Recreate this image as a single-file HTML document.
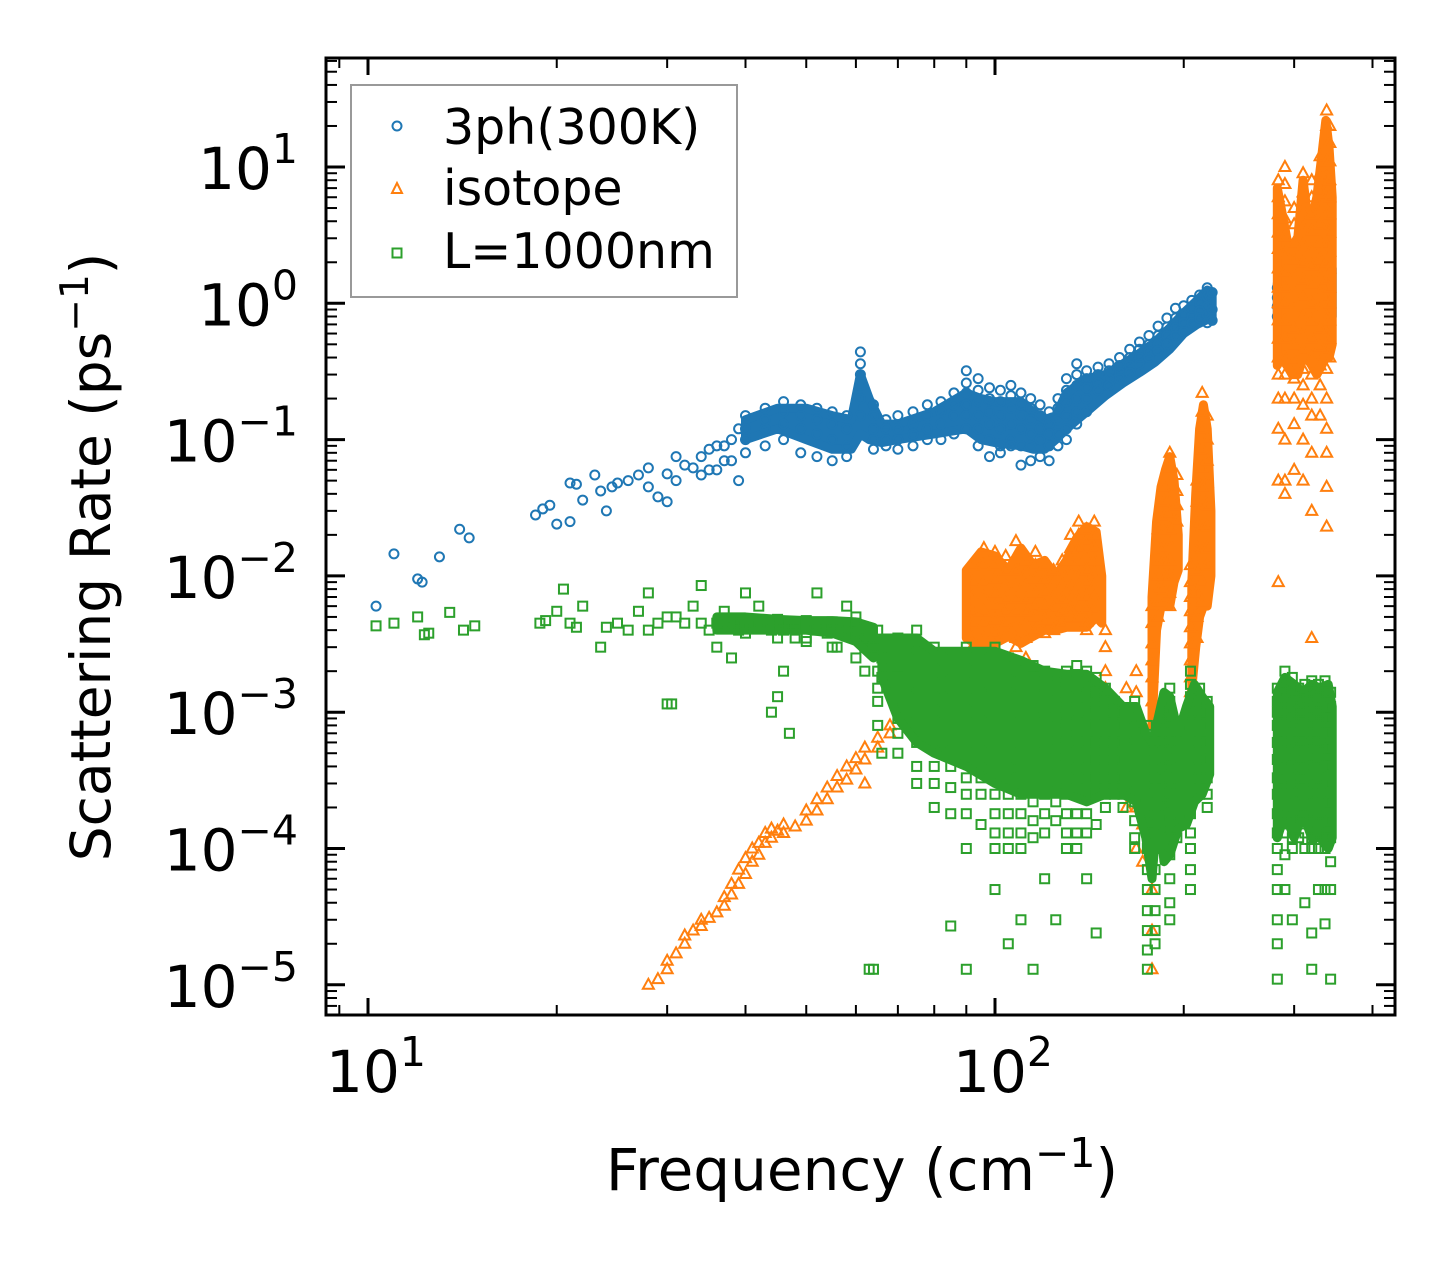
<!DOCTYPE html>
<html><head><meta charset="utf-8"><style>
html,body{margin:0;padding:0;background:#fff;}
svg{display:block;}
text{font-family:"DejaVu Sans","Liberation Sans",sans-serif;fill:#000;}
</style></head><body>
<svg id="chart" width="1455" height="1265" viewBox="0 0 1455 1265" xmlns="http://www.w3.org/2000/svg">
<rect x="0" y="0" width="1455" height="1265" fill="#fff"/>
<g id="marks"></g>
<g id="axes"></g>
<g id="legend">
  <rect x="351" y="85" width="386" height="212" fill="#fff" fill-opacity="0.8" stroke="#999" stroke-width="2"/>
  <circle cx="397" cy="126" r="4.5" fill="none" stroke="#1f77b4" stroke-width="2"/>
  <text x="443" y="144" font-size="49">3ph(300K)</text>
  <polygon points="397,183 392,193 402,193" fill="none" stroke="#ff7f0e" stroke-width="2"/>
  <text x="443" y="205" font-size="49">isotope</text>
  <rect x="392.5" y="248.5" width="9" height="9" fill="none" stroke="#2ca02c" stroke-width="2"/>
  <text x="443" y="268" font-size="49">L=1000nm</text>
</g>
<text x="862" y="1190" font-size="58" text-anchor="middle">Frequency (cm<tspan dy="-23" font-size="41">−1</tspan><tspan dy="23">)</tspan></text>
<text transform="translate(110,557) rotate(-90)" font-size="55" text-anchor="middle">Scattering Rate (ps<tspan dy="-22" font-size="39">−1</tspan><tspan dy="22">)</tspan></text>
</svg>
<script>
// ---- data (frequency in cm^-1, rates in ps^-1) ----
const blueFreq = [10.3,11,12,12.2,13,14,14.5,18.5,19,19.5,20,21,21.5,22,23,23.5,24,24.5,25,26,27,28,29,30,31,32,33,34,35,36,37,38,39,
 40,43,46,49,52,55,58,61,64,67,70,74,78,82,86,90,94,98,102,106,110,114,118,122,126,130,135,140,146,152,158,164,170,176,182,188,194,200,206,212,218,222,
 282,290,300,310,320,330,340];
const blueRate = [[.006],[.0145],[.0095],[.009],[.0138],[.022],[.019],[.028],[.031],[.033],[.024],[.048,.025],[.047],[.036],[.055],[.042],[.03],[.045],[.048],[.05],[.055],[.062,.045],[.038],[.035,.056],[.075,.05],[.065],[.062],[.075,.055],[.085,.06],[.06,.09],[.09,.07],[.07,.1],[.05,.12],
 [.15,.12,.1,.08],[.17,.14,.12,.09],[.19,.16,.13,.1],[.18,.15,.12,.08],[.17,.14,.11,.075],[.16,.13,.1,.07],[.15,.12,.09,.075],[.44,.36,.3,.25,.2,.15],[.18,.15,.12,.1,.085],[.14,.12,.1,.09],[.15,.12,.1,.085],[.16,.13,.11,.09],[.18,.15,.12,.1],[.19,.16,.13,.1],[.22,.18,.15,.11],
 [.32,.26,.22,.18,.15,.12],[.28,.23,.19,.15,.12,.09],[.24,.2,.16,.13,.1,.075],[.23,.19,.15,.12,.09,.08],[.25,.21,.17,.13,.1,.09],[.22,.18,.15,.12,.09,.065],[.2,.17,.14,.11,.09,.07],[.18,.15,.12,.1,.075],[.16,.13,.11,.09,.07],[.2,.17,.14,.11,.09],[.28,.23,.19,.15,.12,.1],[.36,.3,.25,.2,.16,.13],[.32,.28,.24,.2,.16],[.34,.3,.26,.23],[.36,.32,.28,.25],[.4,.35,.31,.28],[.46,.4,.35,.31],[.52,.46,.4,.36],[.58,.5,.44,.4],[.68,.58,.5,.45],[.78,.67,.58,.5],[.92,.78,.66,.58],[.96,.82,.72,.62],[1.05,.92,.8,.72],[1.15,1.0,.88,.78],[1.3,1.12,.95,.82,.72],[1.2,.9,.75],
 [1.3,1.1,.95,.8],[1.5,1.25,1.05,.9,.7],[1.2,.95,.75,.55,.4],[1.0,.8,.6,.45],[1.4,1.1,.85,.65,.45],[1.6,1.3,1.0,.75,.5],[2.0,1.7,1.4,1.15,.9]];
// dense-cloud envelopes (upper / lower edge of the packed marker region)
const blueEnvFreq = [40,45,50,55,59,61,63,66,70,80,90,95,100,110,115,120,125,130,140,150,160,170,180,190,200,210,218,222];
const blueEnvHi   = [.14,.17,.17,.15,.14,.3,.2,.13,.13,.16,.22,.2,.19,.19,.16,.14,.15,.22,.28,.3,.36,.43,.52,.66,.85,1.05,1.25,1.2];
const blueEnvLo   = [.1,.12,.1,.085,.085,.11,.1,.095,.1,.11,.12,.1,.095,.09,.085,.085,.1,.12,.16,.21,.26,.31,.37,.46,.6,.7,.76,.76];
const blueEnv2Freq = [282,290,300,310,320,330,340,345];
const blueEnv2Hi   = [1.4,1.5,1.2,1.1,1.4,1.6,1.9,1.8];
const blueEnv2Lo   = [.8,.7,.5,.42,.45,.42,.6,.8];

const orangeFreq = [28,29,30,31,32,33,34,35,36,37,38,39,40,41,42,43,44,45,46,48,50,52,54,56,58,60,62,65,68,72,75,80,85,88,
 92,96,100,104,108,112,116,120,124,128,132,136,140,144,150,156,162,168,172,178,182,186,190,195,205,210,214,218,
 283,290,300,310,320,330,338,342];
const orangeRate = [[1e-5],[1.1e-5],[1.3e-5,1.5e-5],[1.7e-5],[2e-5,2.3e-5],[2.5e-5],[2.7e-5,3e-5],[3.1e-5],[3.4e-5],[3.8e-5,4.4e-5],[4.6e-5,5.5e-5],[5.5e-5,7e-5],[6.5e-5,8.5e-5],[8e-5,1e-4],[9e-5,1.1e-4],[1.1e-4,1.3e-4],[1.2e-4,1.4e-4],[1.35e-4],[1.3e-4,1.5e-4],[1.45e-4],[1.6e-4,1.9e-4],[1.9e-4,2.3e-4],[2.3e-4,2.8e-4],[2.8e-4,3.4e-4],[3.2e-4,4e-4],[3.8e-4,4.6e-4],[4.5e-4,5.5e-4,3e-4],[5.5e-4,6.5e-4],[7e-4,8e-4],[8.5e-4,1e-3],[1e-3],[1.2e-3],[1.5e-3],[2e-3],
 [.012,.009,.007,.0055,.0045,.0035,.003],[.016,.012,.009,.007,.0055,.0045,.0035,.0025],[.015,.012,.0095,.0075,.006,.0048,.0038,.003],[.014,.011,.0085,.0068,.0055,.0045,.0036],[.018,.014,.011,.0085,.0068,.0055,.0044,.0035,.003],[.013,.0105,.0085,.0068,.0055,.0044,.0035,.0025],[.015,.012,.0095,.0075,.006,.005,.004],[.012,.0095,.0076,.006,.0048,.0038],[.011,.0088,.007,.0058,.0048,.004],[.013,.0105,.0085,.0068,.0055,.0045],[.02,.016,.013,.0105,.0085,.007,.0058,.005],[.025,.02,.016,.013,.0105,.0085,.007,.0058,.005],[.022,.018,.014,.011,.009,.0072,.0058,.0046,.004],[.025,.02,.016,.013,.0105,.0085,.007,.0057],
 [.004,.003,.002,.0015,.001,.0006],[.0012,.0008,.0005,.0003],[.0015,.001,.0006,.0004,.0002],[.002,.0014,.001,.0007,.0005,.0003,.0002,1e-4],[.0008,5e-4,3e-4,1.5e-4,8e-5],
 [.006,.0045,.0032,.0024,.0018,.0012,8e-4,5e-4,3e-4,2e-4,1e-4,5e-5,2.5e-5,1.3e-5],[.022,.017,.013,.01,.008,.0065,.005],[.045,.035,.027,.021,.016,.013,.01,.008],[.08,.062,.048,.037,.029,.022,.017,.013,.01,.0075,.006],[.055,.042,.033,.025],
 [.012,.009,.007,.0055,.0042,.0032,.0024,.0018,.0014,.001],[.05,.035,.024,.016,.011,.0075,.005,.0035],[.22,.16,.12,.085,.062,.045,.032,.023,.016,.012,.009,.0065],[.15,.1,.07,.048,.033,.023,.016,.012],
 [8,6,4.5,3.3,2.5,1.8,1.3,1,.75,.55,.4,.3,.2,.12,.05,.009],[10,7.5,5.6,4.2,3.1,2.3,1.7,1.3,1,.75,.55,.4,.3,.2,.1,.05,.04],[5,3.8,2.8,2.1,1.6,1.2,.9,.65,.5,.38,.28,.2,.13,.06],[9,6.5,4.8,3.6,2.7,2,1.5,1.1,.8,.6,.45,.33,.25,.18,.1,.05],[8,6,4.5,3.4,2.5,1.9,1.4,1,.75,.55,.4,.3,.2,.15,.08,.03,.0035],[12,9,6.8,5,3.8,2.8,2.1,1.6,1.2,.9,.65,.48,.35,.25,.15],[26,20,15,11,8.5,6.4,4.8,3.6,2.7,2,1.5,1.1,.8,.6,.45,.33,.2,.12,.08,.045,.023],[20,15,11,8,6,4.5,3.3,2.4,1.8,1.3,1,.75,.55,.4]];
const orangeEnvAFreq = [90,95,100,105,110,115,120,125,130,135,140,145,148];
const orangeEnvAHi   = [.011,.015,.014,.011,.016,.012,.013,.01,.013,.019,.023,.021,.01];
const orangeEnvALo   = [.0035,.003,.0032,.0036,.0032,.0036,.004,.004,.0042,.0042,.0042,.005,.0045];
const orangeEnvBFreq = [178,181,184,187,190,193,196];
const orangeEnvBHi   = [.007,.025,.045,.06,.075,.05,.02];
const orangeEnvBLo   = [.0008,.004,.006,.006,.006,.009,.011];
const orangeEnvCFreq = [206,209,212,215,218,221];
const orangeEnvCHi   = [.009,.04,.12,.18,.12,.03];
const orangeEnvCLo   = [.0015,.003,.005,.006,.006,.01];
const orangeEnvDFreq = [282,286,292,298,304,310,314,320,326,332,337,341,345];
const orangeEnvDHi   = [7,5,3,2.2,3,8,5,4,6,12,22,14,6];
const orangeEnvDLo   = [.35,.4,.35,.3,.3,.4,.4,.35,.3,.35,.4,.4,.5];

const greenFreq = [10.3,11,12,12.3,12.5,13.5,14.2,14.8,18.8,19.2,20,20.5,21,21.5,22,23.5,24,25,26,27,28,29,30,30.5,31,32,33,34,35,36,37,38,39,
 40,42,44,45,46,47,48,50,52,54,55,56,58,60,62,63,64,65,66,
 70,75,80,85,90,95,100,105,110,115,120,125,130,135,140,145,150,155,160,167,175,180,185,190,195,205,212,218,
 282,290,298,305,312,320,328,336,343];
const greenRate = [[.0043],[.0045],[.005],[.0037],[.0038],[.0054],[.004],[.0043],[.0045],[.0047],[.0055],[.008],[.0045],[.0042],[.006],[.003],[.0042],[.0045],[.004],[.0055],[.0075,.004],[.0045],[.00115,.005],[.00115],[.005],[.0045],[.006],[.0085,.0045],[.004],[.003,.0045],[.0055,.0045],[.0025,.0048],[.004,.0045],
 [.0075,.0048,.0042,.0038],[.006,.0047,.0042],[.001,.0046,.004],[.0048,.0042,.0035,.0013],[.002,.0046,.004],[.0007,.0045],[.0045,.004,.0035],[.0047,.0041,.0035,.0033],[.0075,.0045,.004],[.0045,.0038],[.0046,.004,.003],[.003,.0042],[.006,.0045,.0038],[.0045,.0035,.0025,.005],[.002,.004,.003],[1.3e-5,.0035],[1.3e-5,.003],[.004,.003,.002,.0015,.0012,.0008],[5e-4,.0025,.0018],
 [.0035,.0028,.0022,.0018,.0014,.0011,.0009,.0007,.0005],[.004,.0032,.0025,.002,.0016,.0013,.001,.0008,.0006,.0004,.0003],[.003,.0024,.0019,.0015,.0012,.001,.0008,.0006,.0004,.0003,.0002],[.0025,.002,.0016,.0013,.001,.0008,.0006,.0004,.00028,.00018,2.7e-5],
 [.003,.0024,.0019,.0015,.0012,.001,.0008,.0006,.00045,.00033,.00025,.00018,1e-4,1.3e-5],[.0025,.002,.0016,.0013,.001,.0008,.0006,.00045,.00033,.00025,.00015],[.003,.0024,.0019,.0015,.0012,.001,.0008,.0006,.00045,.00033,.00025,.00018,1.3e-4,1e-4,5e-5],[.0025,.002,.0016,.0013,.001,.0008,.0006,.00045,.00033,.00025,.00018,1.3e-4,1e-4,2e-5],
 [.002,.0016,.0013,.001,.0008,.0006,.00045,.00033,.00025,.00018,1.3e-4,1e-4,3e-5],[.0022,.0018,.0014,.0011,.0009,.0007,.00055,.0004,.0003,.00022,.00016,1.2e-4,1.3e-5],[.002,.0016,.0013,.001,.0008,.0006,.00045,.00033,.00025,.00018,1.3e-4,6e-5],[.0018,.0014,.0011,.0009,.0007,.00055,.0004,.0003,.00022,.00016,3e-5],
 [.002,.0016,.0013,.001,.0008,.0006,.00045,.00033,.00025,.00018,1.3e-4,1e-4],[.0022,.0017,.0013,.001,.0008,.0006,.00045,.00033,.00025,.00018,1.3e-4,1e-4],[.002,.0016,.0013,.001,.0008,.0006,.00045,.00033,.00025,.00018,1.3e-4,6e-5],[.0018,.0014,.0011,.0008,.0006,.00045,.00033,.00025,.00015,2.4e-5],
 [.0015,.0012,.001,.0008,.0006,.00045,.00033,.00025,.0002],[.0012,.001,.0008,.0006,.00045,.00033,.00025],[.001,.0008,.0006,.00045,.00033,.00025,.0002],[.0012,.0009,.0007,.00055,.0004,.0003,.00022,.00016,1.2e-4,1e-4],
 [.0008,.0006,.00045,.00033,.00025,.00018,1.3e-4,1e-4,7e-5,5e-5,3.5e-5,2.5e-5,1.8e-5,1.3e-5],[.0006,.00045,.00033,.00025,.00018,1.3e-4,1e-4,7e-5,5e-5,3.5e-5,2.5e-5,2e-5],[.001,.0008,.0006,.00045,.00033,.00025,.0002],[.0015,.0012,.0009,.0007,.00055,.0004,.0003,.00022,.00016,1.2e-4,9e-5,6e-5,4e-5,3e-5],
 [.0008,.0006,.00045,.00033,.00025,.00018,1.2e-4],[.002,.0016,.0013,.001,.0008,.0006,.00045,.00033,.00025,.00018,1.3e-4,1e-4,7e-5,5e-5],[.0015,.0012,.001,.0008,.0006,.00045,.00033,.00025],[.0012,.001,.0008,.0006,.00045,.00033,.00025,.0002],
 [.0015,.0012,.001,.0008,.0006,.00045,.00033,.00025,.00018,1.3e-4,1e-4,7e-5,5e-5,3e-5,2e-5,1.1e-5],[.002,.0016,.0013,.001,.0008,.0006,.00045,.00033,.00025,.00018,1.3e-4,9e-5,5e-5],[.0018,.0014,.0011,.0009,.0007,.00055,.0004,.0003,.00022,.00016,1.2e-4,1e-4,3e-5],[.0015,.0012,.001,.0008,.0006,.00045,.00033,.00025,.00018,1.2e-4],
 [.0016,.0013,.001,.0008,.0006,.00045,.00033,.00025,.00018,1.3e-4,1e-4,4e-5],[.0017,.0014,.0011,.0009,.0007,.00055,.0004,.0003,.00022,.00016,1.2e-4,1e-4,2.4e-5,1.3e-5],[.0016,.0013,.001,.0008,.0006,.00045,.00033,.00025,.00018,1.3e-4,1e-4,5e-5],[.0017,.0014,.0011,.0009,.0007,.00055,.0004,.0003,.00022,.00016,1.2e-4,1e-4,5e-5,2.8e-5],[.0014,.0011,.0009,.0007,.00055,.0004,.0003,.00022,.00016,1.2e-4,8e-5,5e-5,1.1e-5]];
const greenEnvAFreq = [36,40,45,50,55,60,64];
const greenEnvAHi   = [.005,.005,.0048,.0047,.0047,.0046,.0042];
const greenEnvALo   = [.004,.004,.004,.004,.0038,.0033,.0025];
const greenEnvBFreq = [66,70,75,80,90,100,110,120,130,140,150,160,168,174,178,182,186,190,196,202,208,214,220];
const greenEnvBHi   = [.0035,.0035,.0035,.0028,.0028,.0028,.0024,.002,.0019,.0019,.0015,.0011,.0011,.0007,.0006,.0009,.0014,.0013,.0007,.0011,.0016,.0013,.0011];
const greenEnvBLo   = [.0018,.0009,.0006,.0005,.0004,.0003,.00025,.00025,.00025,.00022,.00025,.00025,.00022,.00012,.00006,.00022,.00008,.00009,.00014,.00015,.00022,.00025,.00035];
const greenEnvCFreq = [282,290,300,310,320,330,340,345];
const greenEnvCHi   = [.0014,.0018,.0016,.0014,.0016,.0015,.0016,.0011];
const greenEnvCLo   = [.00012,.00018,.00012,.00018,.00012,.00012,.0001,.00012];

const xTickLabels = ["1","2"];   // exponents for 10^1, 10^2
const yTickLabels = ["1","0","−1","−2","−3","−4","−5"];
const yTickExps = [1,0,-1,-2,-3,-4,-5];
const xTickExps = [1,2];

// ---- axis functions ----
const PL=326, PR=1395, PT=58, PB=1015;
const X0=368, XD=627;   // pixel of 10^1, px per decade
const Y0=167, YD=136.3; // pixel of 10^1, px per decade
function xs(f){return X0+(Math.log10(f)-1)*XD;}
function ys(v){return Y0-(Math.log10(v)-1)*YD;}

const NS="http://www.w3.org/2000/svg";
const marks=document.getElementById('marks');
const axes=document.getElementById('axes');
function mk(tag,attrs,parent){const e=document.createElementNS(NS,tag);for(const k in attrs)e.setAttribute(k,attrs[k]);parent.appendChild(e);return e;}

const clip=mk('clipPath',{id:'pc'},document.getElementById('chart'));
mk('rect',{x:PL,y:PT,width:PR-PL,height:PB-PT},clip);
marks.setAttribute('clip-path','url(#pc)');

function drawEnv(freqs,hi,lo,color,name){
  const pts=[];
  freqs.forEach((f,i)=>pts.push(xs(f)+','+ys(hi[i])));
  for(let i=freqs.length-1;i>=0;i--) pts.push(xs(freqs[i])+','+ys(lo[i]));
  const p=mk('polygon',{points:pts.join(' '),fill:color,stroke:color,'stroke-width':9,'stroke-linejoin':'round'},marks);
  
  
}
function drawSeries(freqs,rates,kind,color,name){
  const g=mk('g',{fill:'none',stroke:color,'stroke-width':2},marks);
  
  
  freqs.forEach((f,i)=>{
    rates[i].forEach(v=>{
      const x=xs(f), y=ys(v); let e;
      if(kind==='circle') e=mk('circle',{cx:x,cy:y,r:4.5},g);
      else if(kind==='tri') e=mk('polygon',{points:`${x},${y-6} ${x-5.5},${y+4} ${x+5.5},${y+4}`},g);
      else e=mk('rect',{x:x-4.5,y:y-4.5,width:9,height:9},g);
      
      
    });
  });
}
const B='#1f77b4', O='#ff7f0e', G='#2ca02c';
drawEnv(blueEnvFreq,blueEnvHi,blueEnvLo,B,'series-3ph-dense-cloud');
drawEnv(blueEnv2Freq,blueEnv2Hi,blueEnv2Lo,B,'series-3ph-high-cloud');
drawSeries(blueFreq,blueRate,'circle',B,'series-3ph');
drawEnv(orangeEnvAFreq,orangeEnvAHi,orangeEnvALo,O,'series-isotope-cloud-a');
drawEnv(orangeEnvBFreq,orangeEnvBHi,orangeEnvBLo,O,'series-isotope-cloud-b');
drawEnv(orangeEnvCFreq,orangeEnvCHi,orangeEnvCLo,O,'series-isotope-cloud-c');
drawEnv(orangeEnvDFreq,orangeEnvDHi,orangeEnvDLo,O,'series-isotope-cloud-d');
drawSeries(orangeFreq,orangeRate,'tri',O,'series-isotope');
drawEnv(greenEnvAFreq,greenEnvAHi,greenEnvALo,G,'series-l1000nm-flat-cloud');
drawEnv(greenEnvBFreq,greenEnvBHi,greenEnvBLo,G,'series-l1000nm-main-cloud');
drawEnv(greenEnvCFreq,greenEnvCHi,greenEnvCLo,G,'series-l1000nm-high-cloud');
drawSeries(greenFreq,greenRate,'square',G,'series-l1000nm');

// frame
const frame=mk('rect',{x:PL,y:PT,width:PR-PL,height:PB-PT,fill:'none',stroke:'#000','stroke-width':3},axes);



// x ticks
for(let d=0;d<=2;d++){for(let m=1;m<=9;m++){
  const f=m*Math.pow(10,d); const x=xs(f); if(x<PL||x>PR) continue;
  const L=m===1?17:10;
  const t1=mk('line',{x1:x,y1:PB,x2:x,y2:PB-L,stroke:'#000','stroke-width':m===1?3:2},axes);
  
  
  const t2=mk('line',{x1:x,y1:PT,x2:x,y2:PT+L,stroke:'#000','stroke-width':m===1?3:2},axes);
  
  
}}
xTickExps.forEach((e,i)=>{
  const x=xs(Math.pow(10,e));
  const t=mk('text',{x:x+8,y:1092,'font-size':58,'text-anchor':'middle'},axes);
  
  
  t.innerHTML='10<tspan dy="-26" font-size="41">'+xTickLabels[i]+'</tspan>';
});
// y ticks
for(let d=-6;d<=1;d++){for(let m=1;m<=9;m++){
  const v=m*Math.pow(10,d); const y=ys(v); if(y<PT||y>PB) continue;
  const L=m===1?19:11;
  const t1=mk('line',{x1:PL,y1:y,x2:PL+L,y2:y,stroke:'#000','stroke-width':m===1?3:2},axes);
  
  
  const t2=mk('line',{x1:PR,y1:y,x2:PR-L,y2:y,stroke:'#000','stroke-width':m===1?3:2},axes);
  
  
}}
yTickExps.forEach((e,i)=>{
  const y=ys(Math.pow(10,e));
  const t=mk('text',{x:298,y:y+22,'font-size':58,'text-anchor':'end'},axes);
  
  
  t.innerHTML='10<tspan dy="-26" font-size="41">'+yTickLabels[i]+'</tspan>';
});
// bring legend to front
document.getElementById('chart').appendChild(document.getElementById('legend'));
</script>
</body></html>
